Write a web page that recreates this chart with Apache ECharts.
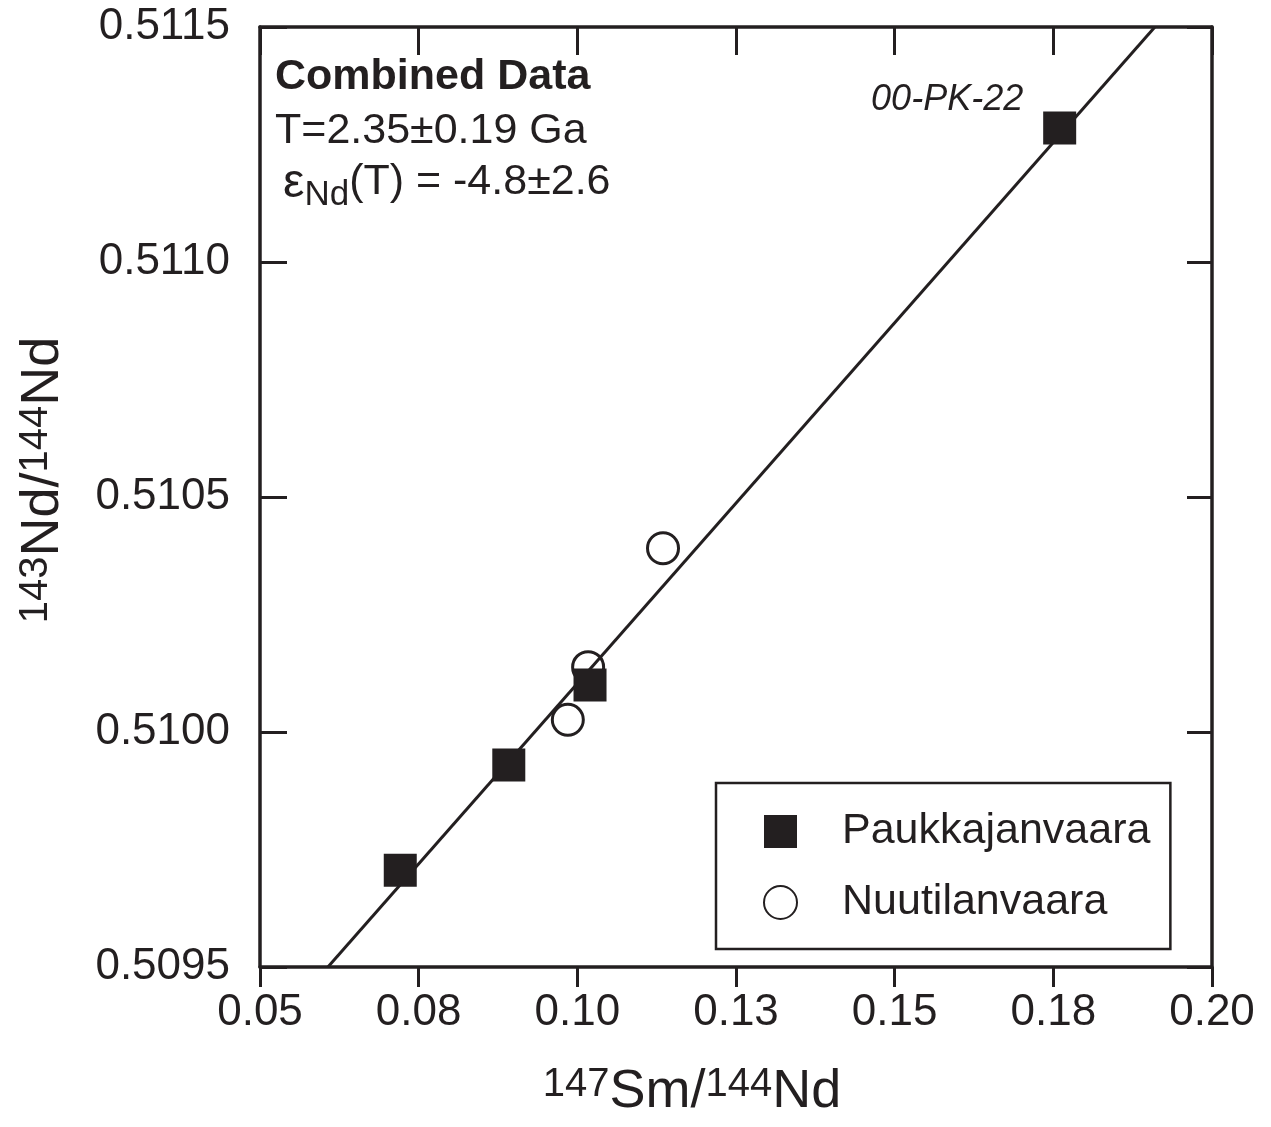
<!DOCTYPE html>
<html>
<head>
<meta charset="utf-8">
<script src="https://cdn.jsdelivr.net/npm/echarts@6/dist/echarts.min.js"></script>
<style>
  html, body { margin: 0; padding: 0; background: #fff; }
  #main { width: 1271px; height: 1127px; }
</style>
</head>
<body>
<div id="main"></div>
<script>
// 147Sm/144Nd vs 143Nd/144Nd
var paukX = [0.0721, 0.0892, 0.1020, 0.1760];
var paukY = [0.509706, 0.509930, 0.510100, 0.511285];
var nuutX = [0.0985, 0.1017, 0.1135];
var nuutY = [0.510026, 0.510138, 0.510391];
// isochron line ends
var fitX = [0.0607, 0.1910];
var fitY = [0.5095, 0.5115];
var xTickLabels = ['0.05', '0.08', '0.10', '0.13', '0.15', '0.18', '0.20'];
var yTickLabels = ['0.5095', '0.5100', '0.5105', '0.5110', '0.5115'];

var ink = '#231f20';
var fontFam = '"Liberation Sans", Arial, Helvetica, sans-serif';

function pairs(xs, ys) {
  return xs.map(function (x, i) { return [x, ys[i]]; });
}

var paukData = pairs(paukX, paukY);
paukData[3] = {
  value: paukData[3],
  label: {
    show: true, formatter: '00-PK-22', position: 'left', distance: 20,
    offset: [0, -28], fontStyle: 'italic', fontSize: 36, color: ink, fontFamily: fontFam
  }
};

var myChart = echarts.init(document.getElementById('main'));

var axisLine = { show: true, lineStyle: { color: ink, width: 3.5 } };
var nameRich = {
  m: { fontSize: 54, color: ink, fontFamily: fontFam },
  sup: { fontSize: 40, color: ink, fontFamily: fontFam, verticalAlign: 'top' }
};

myChart.setOption({
  backgroundColor: '#fff',
  animation: false,
  textStyle: { fontFamily: fontFam },
  grid: { left: 260, right: 59, top: 27, bottom: 160, outerBoundsMode: 'none', containLabel: false },
  xAxis: [{
    type: 'value', min: 0.05, max: 0.2, interval: 0.025,
    axisLine: axisLine,
    axisTick: { show: true, inside: false, length: 20, lineStyle: { color: ink, width: 3 } },
    splitLine: { show: false },
    axisLabel: {
      fontSize: 44, color: ink, margin: 24,
      formatter: function (v) { return xTickLabels[Math.round((v - 0.05) / 0.025)]; }
    },
    name: '{sup|147}{m|Sm/}{sup|144}{m|Nd}',
    nameLocation: 'middle', nameGap: 98,
    nameTextStyle: { padding: [0, 88, 0, 0], rich: nameRich }
  }, {
    type: 'value', position: 'top', min: 0.05, max: 0.2, interval: 0.025,
    axisLine: axisLine,
    axisTick: { show: true, inside: true, length: 28, lineStyle: { color: ink, width: 3 } },
    axisLabel: { show: false },
    splitLine: { show: false }
  }],
  yAxis: [{
    type: 'value', min: 0.5095, max: 0.5115, interval: 0.0005,
    axisLine: axisLine,
    axisTick: { show: true, inside: true, length: 27, lineStyle: { color: ink, width: 3 } },
    splitLine: { show: false },
    axisLabel: {
      fontSize: 44, color: ink, margin: 30,
      formatter: function (v) { return yTickLabels[Math.round((v - 0.5095) / 0.0005)]; }
    },
    name: '{sup|143}{m|Nd/}{sup|144}{m|Nd}',
    nameLocation: 'middle', nameGap: 190,
    nameTextStyle: { padding: [0, 0, 0, 34], rich: nameRich }
  }, {
    type: 'value', position: 'right', min: 0.5095, max: 0.5115, interval: 0.0005,
    axisLine: axisLine,
    axisTick: { show: true, inside: true, length: 25, lineStyle: { color: ink, width: 3 } },
    axisLabel: { show: false },
    splitLine: { show: false }
  }],
  legend: {
    left: 716, top: 783,
    orient: 'vertical',
    data: ['Paukkajanvaara', 'Nuutilanvaara'],
    borderColor: ink, borderWidth: 2.5,
    padding: [27, 20, 25, 47],
    itemWidth: 33, itemHeight: 33, itemGap: 28,
    textStyle: { fontSize: 43, color: ink, padding: [0, 0, 0, 40] }
  },
  graphic: [{
    type: 'text', left: 275, top: 56,
    style: { text: 'Combined Data', font: 'bold 43px ' + fontFam, fill: ink }
  }, {
    type: 'text', left: 275, top: 110,
    style: { text: 'T=2.35±0.19 Ga', font: '43px ' + fontFam, fill: ink }
  }, {
    type: 'text', left: 283, top: 160,
    style: {
      text: '{e|ε}{s|Nd}{n|(T) = -4.8±2.6}',
      rich: {
        e: { fontSize: 48, fontFamily: fontFam, fill: ink, verticalAlign: 'top', padding: [2, 0, 0, 0] },
        n: { fontSize: 43, fontFamily: fontFam, fill: ink, verticalAlign: 'top', padding: [3, 0, 0, 0] },
        s: { fontSize: 35, fontFamily: fontFam, fill: ink, verticalAlign: 'bottom', padding: [20, 0, 0, 0] }
      }
    }
  }],
  series: [{
    name: 'Nuutilanvaara',
    type: 'scatter',
    symbol: 'circle', symbolSize: 31,
    itemStyle: { color: 'rgba(255,255,255,0)', borderColor: ink, borderWidth: 3, opacity: 1 },
    z: 2,
    data: pairs(nuutX, nuutY)
  }, {
    name: 'fit',
    type: 'line',
    showSymbol: false,
    symbol: 'none',
    lineStyle: { color: ink, width: 3 },
    z: 3,
    data: pairs(fitX, fitY)
  }, {
    name: 'Paukkajanvaara',
    type: 'scatter',
    symbol: 'rect', symbolSize: 33,
    itemStyle: { color: ink, opacity: 1 },
    z: 4,
    data: paukData
  }]
});
</script>
</body>
</html>
